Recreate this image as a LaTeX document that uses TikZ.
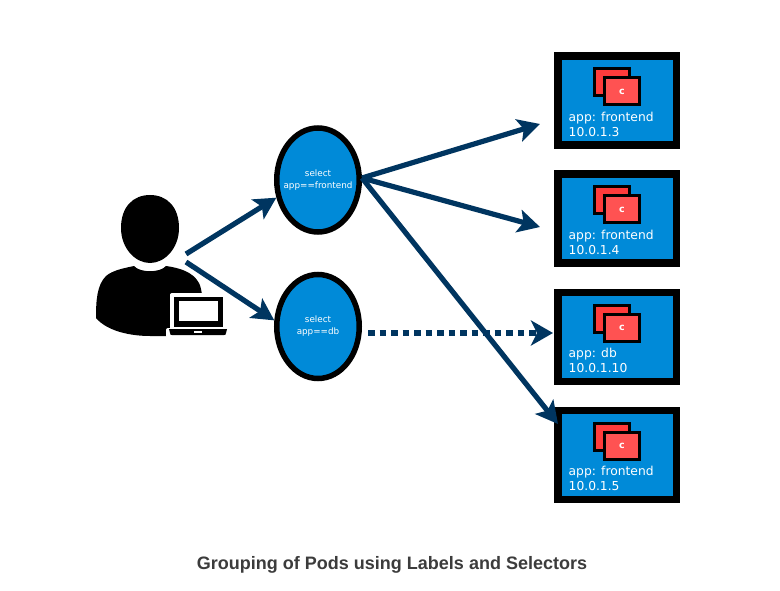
\documentclass[tikz,border=0pt]{standalone}
\usepackage{fontspec}
\setmainfont{DejaVu Sans}
\newfontfamily\titlefont{Liberation Sans}
\usetikzlibrary{arrows.meta,shapes.geometric}
\definecolor{podblue}{HTML}{008AD8}
\definecolor{linkblue}{HTML}{003560}
\definecolor{backred}{HTML}{FF3B3B}
\definecolor{frontred}{HTML}{FF5252}
\definecolor{titlegray}{HTML}{3C3C3C}
\tikzset{
  selector/.style={ellipse,draw=black,line width=5.5pt,fill=podblue,minimum width=82.5pt,minimum height=104pt,inner sep=0pt,text=white,font=\fontsize{8.8}{12}\selectfont,align=center},
  podbox/.style={rectangle,draw=black,line width=7.5pt,fill=podblue,minimum width=118.5pt,minimum height=89pt,inner sep=0pt},
  podtext/.style={anchor=north west,text=white,font=\fontsize{12.3}{15.2}\selectfont,align=left,inner sep=0pt},
  ctrback/.style={rectangle,draw=black,line width=3pt,fill=backred,minimum width=35pt,minimum height=27pt,inner sep=0pt},
  ctrfront/.style={rectangle,draw=black,line width=3pt,fill=frontred,minimum width=35pt,minimum height=27pt,inner sep=0pt,text=white,font=\fontsize{9.5}{10}\selectfont\bfseries},
  link/.style={draw=linkblue,line width=5.2pt,-{Stealth[length=22pt,width=23pt,inset=5pt]}},
  dotlink/.style={draw=linkblue,line width=5.5pt,dash pattern=on 6.5pt off 5pt,-{Stealth[length=22pt,width=25pt,inset=6pt]}}
}
\newcommand{\pod}[4]{%
  \node[podbox] (#1) at (617,#2) {};
  \node[ctrback] at (612,#2-18.5) (#1back) {};
  \node[ctrfront] at (622,#2-9) (#1front) {c};
  \node[podtext] at (568.5,#2+11) (#1label) {app: #3\\#4};
}
\begin{document}
\begin{tikzpicture}[x=1pt,y=-1pt]
\useasboundingbox (0,0) rectangle (780,591);
\fill[white] (0,0) rectangle (780,591);
% person
\fill[black] (150,195) .. controls (167,195) and (179,207) .. (179,228)
  .. controls (179,248) and (165,263) .. (150,263)
  .. controls (135,263) and (121,248) .. (121,228)
  .. controls (121,207) and (133,195) .. (150,195) -- cycle;
\fill[black] (134,266) .. controls (140,273) and (160,273) .. (166,266)
  .. controls (180,268) and (193,272) .. (199,283)
  .. controls (201,287) and (201,290) .. (202,294)
  -- (170,294) -- (170,331) -- (168,336)
  -- (150,336) .. controls (130,336) and (107,331) .. (96,318)
  .. controls (96,300) and (97,285) .. (106,276)
  .. controls (113,270) and (125,268) .. (134,266) -- cycle;
% laptop
\fill[white,rounded corners=2pt] (170,293) rectangle (226,332);
\fill[white,rounded corners=2pt] (166,328) rectangle (230,338);
\fill[black] (174,297) rectangle (223,327);
\fill[white] (179,301) rectangle (218,321);
\fill[black] (169,329) -- (227,329) -- (226,333) .. controls (226,335) and (225,335) .. (224,335) -- (172,335) .. controls (171,335) and (170,335) .. (170,333) -- cycle;
\fill[white] (194,331) rectangle (202,333);
% selectors
\node[selector] (front) at (318,180) {\makebox[0pt]{select}\\\makebox[0pt]{app==frontend}};
\node[selector] (db) at (318,326.5) {\makebox[0pt]{select}\\\makebox[0pt]{app==db}};
% pods
\pod{pa}{100.5}{frontend}{10.0.1.3}
\pod{pb}{218.5}{frontend}{10.0.1.4}
\pod{pc}{337}{db}{10.0.1.10}
\pod{pd}{455}{frontend}{10.0.1.5}
% connector ends
\coordinate (userA) at (186,254);
\coordinate (userB) at (186,262);
\coordinate (fromF) at (362,178);
\coordinate (toA) at (540,124);
\coordinate (toB) at (540,227);
\coordinate (toD) at (558,424);
\coordinate (fromD) at (368,333);
\coordinate (toC) at (553,333);
\draw[link] (userA) -- (front.203);
\draw[link] (userB) -- (db.172);
\draw[link] (fromF) -- (toA);
\draw[link] (fromF) -- (toB);
\draw[link] (fromF) -- (toD);
\draw[dotlink] (fromD) -- (toC);
\node[font=\titlefont\bfseries\fontsize{18}{20}\selectfont,text=titlegray,inner sep=0pt] (title) at (392,564.5) {Grouping of Pods using Labels and Selectors};
\end{tikzpicture}
\end{document}
